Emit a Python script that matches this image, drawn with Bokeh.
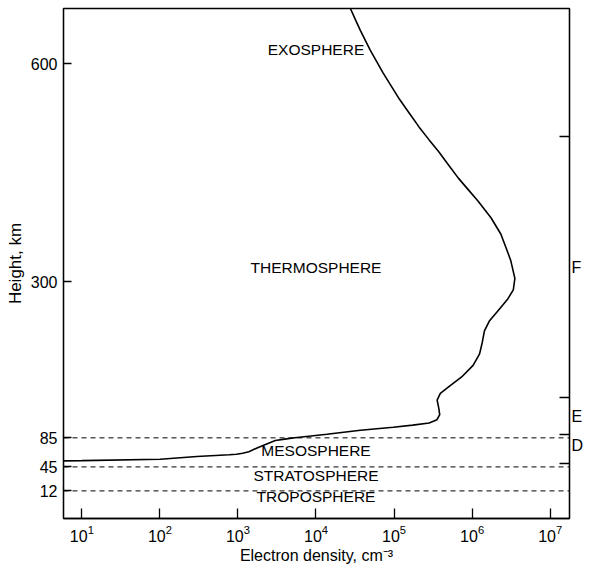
from bokeh.plotting import figure
from bokeh.models import FixedTicker, LinearAxis, Span
from bokeh.core.properties import value
from bokeh.embed import file_html
from bokeh.resources import INLINE

# Electron density profile (cm^-3) versus height (km)
density = [5.01, 10, 101, 298, 773, 955, 1148, 1380, 1786, 2254, 3013, 3981, 5370,
           13800, 37150, 97700, 1.738e5, 2.818e5, 3.548e5, 3.846e5, 3.741e5,
           3.565e5, 3.917e5, 5.0e5, 7.345e5, 1.030e6, 1.247e6, 1.349e6, 1.439e6,
           1.663e6, 2.123e6, 2.831e6, 3.373e6, 3.532e6, 3.119e6, 2.698e6, 2.333e6,
           1.746e6, 1.189e6, 8.913e5, 6.668e5, 4.989e5, 3.741e5, 2.799e5, 2.099e5,
           1.570e5, 1.175e5, 7.261e4, 5.970e4, 4.932e4, 3.698e4, 3.199e4, 2.767e4,
           2.399e4]
height = [53.2, 53.6, 55.6, 59.3, 61.8, 62.5, 63.8, 66.0, 71.5, 76.0, 81.4, 83.2, 85.1,
          90.0, 95.5, 99.5, 102.5, 105.5, 110.0, 117.0, 126.0,
          137.0, 146.3, 155.2, 168.8, 184.7, 200.6, 216.3, 232.2,
          245.8, 259.4, 275.3, 288.8, 304.6, 329.6, 347.8, 365.6,
          388.0, 411.0, 426.7, 442.5, 460.6, 478.8, 495.5, 512.7,
          531.8, 551.0, 587.0, 603.3, 619.0, 646.0, 660.7, 675.6,
          690.0]

region_names = ["EXOSPHERE", "THERMOSPHERE", "MESOSPHERE", "STRATOSPHERE", "TROPOSPHERE"]
region_heights = [620, 320, 68, 33, 4]
region_density = [1e4, 1e4, 1e4, 1e4, 1e4]

boundary_heights = [12, 45, 85]
height_ticks = [12, 45, 85, 300, 600]
density_ticks = [1e1, 1e2, 1e3, 1e4, 1e5, 1e6, 1e7]

layer_names = ["D", "E", "F"]
layer_label_heights = [75, 115, 320]
layer_bounds = [50, 90, 140, 500]

x_start, x_end = 5.82, 1.77e7
y_start, y_end = -26, 676

FONT = "Liberation Sans"

p = figure(width=586, height=570, x_axis_type="log",
           x_range=(x_start, x_end), y_range=(y_start, y_end),
           output_backend="svg", toolbar_location=None,
           min_border_left=63, min_border_right=14,
           min_border_top=8, min_border_bottom=52)
p.grid.visible = False
p.outline_line_color = "black"
p.outline_line_width = 1.3
p.background_fill_color = "white"
p.border_fill_color = "white"

# bottom axis
xa = p.xaxis[0]
xa.ticker = FixedTicker(ticks=density_ticks, minor_ticks=[])
xa.major_tick_in = 10
xa.major_tick_out = 0
xa.minor_tick_line_color = None
xa.axis_label = "Electron density, cm\u207b\u00b3"
xa.axis_label_text_font = FONT
xa.axis_label_text_font_style = "normal"
xa.axis_label_text_font_size = "16px"
xa.axis_label_text_color = "black"
xa.axis_label_standoff = 2
xa.major_label_text_font = FONT
xa.major_label_text_font_size = "16px"
xa.major_label_text_color = "black"
xa.major_label_standoff = 6
xa.axis_line_color = "black"
xa.axis_line_width = 1.3
xa.major_tick_line_color = "black"
xa.major_tick_line_width = 1.3

# left axis
ya = p.yaxis[0]
ya.ticker = FixedTicker(ticks=height_ticks, minor_ticks=[])
ya.major_tick_in = 8
ya.major_tick_out = 0
ya.minor_tick_line_color = None
ya.axis_label = "Height, km"
ya.axis_label_text_font = FONT
ya.axis_label_text_font_style = "normal"
ya.axis_label_text_font_size = "17px"
ya.axis_label_text_color = "black"
ya.axis_label_standoff = 3
ya.major_label_text_font = FONT
ya.major_label_text_font_size = "16px"
ya.major_label_text_color = "black"
ya.major_label_standoff = 6
ya.axis_line_color = "black"
ya.axis_line_width = 1.3
ya.major_tick_line_color = "black"
ya.major_tick_line_width = 1.3

# right axis: layer names at label heights, boundary ticks as minor ticks
ra = LinearAxis(ticker=FixedTicker(ticks=layer_label_heights, minor_ticks=layer_bounds))
ra.major_label_overrides = {h: n for h, n in zip(layer_label_heights, layer_names)}
ra.major_label_standoff = 2
ra.major_tick_in = 0
ra.major_tick_out = 0
ra.minor_tick_in = 10
ra.minor_tick_out = 0
ra.minor_tick_line_color = "black"
ra.minor_tick_line_width = 1.3
ra.major_label_text_font = FONT
ra.major_label_text_font_size = "16px"
ra.major_label_text_color = "black"
ra.axis_line_color = "black"
ra.axis_line_width = 1.3
p.add_layout(ra, "right")

for h in boundary_heights:
    p.add_layout(Span(location=h, dimension="width", line_color="black",
                      line_width=1, line_dash="5 4"))

p.line(density, height, line_color="black", line_width=1.6)

p.text(x=region_density, y=region_heights, text=region_names,
       text_align="center", text_baseline="middle",
       text_font=value(FONT), text_font_size="15.5px", text_color="black")

open("out.html", "w").write(file_html(p, INLINE))
